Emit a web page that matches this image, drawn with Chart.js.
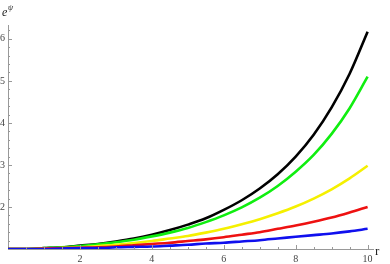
<!DOCTYPE html>
<html>
<head>
<meta charset="utf-8">
<script src="https://cdn.jsdelivr.net/npm/chart.js@4/dist/chart.umd.min.js"></script>
<style>
  html, body { margin: 0; padding: 0; background: #fff; }
  #wrap { width: 390px; height: 264px; }
</style>
</head>
<body>
<div id="wrap"><canvas id="myChart" width="390" height="264"></canvas></div>
<script>
// r values and e^psi
var rValues = [0, 0.5, 1, 1.5, 2, 2.5, 3, 3.5, 4, 4.5, 5, 5.5, 6, 6.5, 7, 7.5, 8, 8.5, 9, 9.5, 10];
var blackVals  = [1.00, 1.00, 1.02, 1.04, 1.08, 1.12, 1.18, 1.25, 1.34, 1.45, 1.58, 1.73, 1.93, 2.16, 2.44, 2.78, 3.20, 3.72, 4.37, 5.17, 6.17];
var greenVals  = [1.00, 1.00, 1.02, 1.04, 1.07, 1.11, 1.16, 1.22, 1.30, 1.39, 1.50, 1.64, 1.80, 1.99, 2.22, 2.50, 2.84, 3.24, 3.74, 4.35, 5.10];
var yellowVals = [1.00, 1.00, 1.01, 1.02, 1.04, 1.07, 1.10, 1.14, 1.19, 1.25, 1.31, 1.39, 1.48, 1.59, 1.71, 1.85, 2.01, 2.20, 2.42, 2.68, 2.98];
var redVals    = [1.00, 1.00, 1.01, 1.02, 1.03, 1.04, 1.06, 1.09, 1.12, 1.15, 1.19, 1.23, 1.28, 1.34, 1.40, 1.48, 1.56, 1.65, 1.75, 1.87, 2.00];
var blueVals   = [1.00, 1.00, 1.00, 1.01, 1.02, 1.02, 1.04, 1.05, 1.06, 1.08, 1.10, 1.13, 1.15, 1.18, 1.21, 1.25, 1.29, 1.33, 1.37, 1.42, 1.48];

var xTickLabels = [2, 4, 6, 8, 10];
var yTickLabels = [2, 3, 4, 5, 6];

function pts(vals) {
    return rValues.map(function (r, i) { return { x: r, y: vals[i] }; });
}

function line(vals, color) {
    return {
        data: pts(vals),
        borderColor: color,
        borderWidth: 2.6,
        pointRadius: 0,
        fill: false,
        cubicInterpolationMode: 'monotone'
    };
}

// Mathematica style ticks pointing inward
var axisTicks = {
    id: 'axisTicks',
    afterDraw: function (chart) {
        var c = chart.ctx, xs = chart.scales.x, ys = chart.scales.y;
        var x0 = xs.getPixelForValue(0), y0 = ys.getPixelForValue(1);
        c.save();
        c.strokeStyle = '#999';
        c.lineWidth = 1;
        c.beginPath();
        for (var i = 1; i <= 20; i++) {
            var v = i * 0.5;
            var px = Math.round(xs.getPixelForValue(v)) + 0.5;
            var len = (i % 4 === 0) ? 4 : 2;
            c.moveTo(px, y0);
            c.lineTo(px, y0 - len);
        }
        for (var j = 1; j <= 26; j++) {
            var yv = 1 + j * 0.2;
            var py = Math.round(ys.getPixelForValue(yv)) + 0.5;
            var ylen = (j % 5 === 0) ? 4 : 2;
            c.moveTo(x0, py);
            c.lineTo(x0 + ylen, py);
        }
        c.stroke();

        // axis labels
        c.fillStyle = '#222';
        c.textBaseline = 'alphabetic';
        c.font = 'italic 12px "Liberation Serif"';
        c.fillText('e', 2, 16);
        c.font = 'italic 8px "Liberation Serif"';
        c.fillText('\u03c8', 8, 10);
        c.font = '13px "Liberation Serif"';
        c.fillText('r', 375, 255);
        c.restore();
    }
};

var ctx = document.getElementById('myChart').getContext('2d');
var myChart = new Chart(ctx, {
    type: 'line',
    data: {
        datasets: [
            line(blueVals, '#1010ee'),
            line(redVals, '#ee1111'),
            line(yellowVals, '#f5f000'),
            line(greenVals, '#10ee10'),
            line(blackVals, '#000000')
        ]
    },
    options: {
        responsive: false,
        animation: false,
        layout: { padding: { top: 25, right: 17, left: 0, bottom: 0 } },
        plugins: {
            legend: { display: false },
            tooltip: { enabled: false }
        },
        scales: {
            x: {
                type: 'linear',
                min: 0,
                max: 10.15,
                grid: { display: false, drawTicks: false },
                border: { display: true, color: '#999', width: 1 },
                afterBuildTicks: function (s) {
                    s.ticks = xTickLabels.map(function (v) { return { value: v }; });
                },
                afterFit: function (s) { s.height = 15; },
                ticks: {
                    padding: 4,
                    maxRotation: 0,
                    autoSkip: false,
                    color: '#444',
                    font: { family: 'Liberation Serif', size: 10 }
                }
            },
            y: {
                type: 'linear',
                min: 1,
                max: 6.33,
                grid: { display: false, drawTicks: false },
                border: { display: true, color: '#999', width: 1 },
                afterBuildTicks: function (s) {
                    s.ticks = yTickLabels.map(function (v) { return { value: v }; });
                },
                afterFit: function (s) { s.width = 8; },
                ticks: {
                    padding: 3,
                    autoSkip: false,
                    color: '#444',
                    font: { family: 'Liberation Serif', size: 10 }
                }
            }
        }
    },
    plugins: [axisTicks]
});
</script>
</body>
</html>
